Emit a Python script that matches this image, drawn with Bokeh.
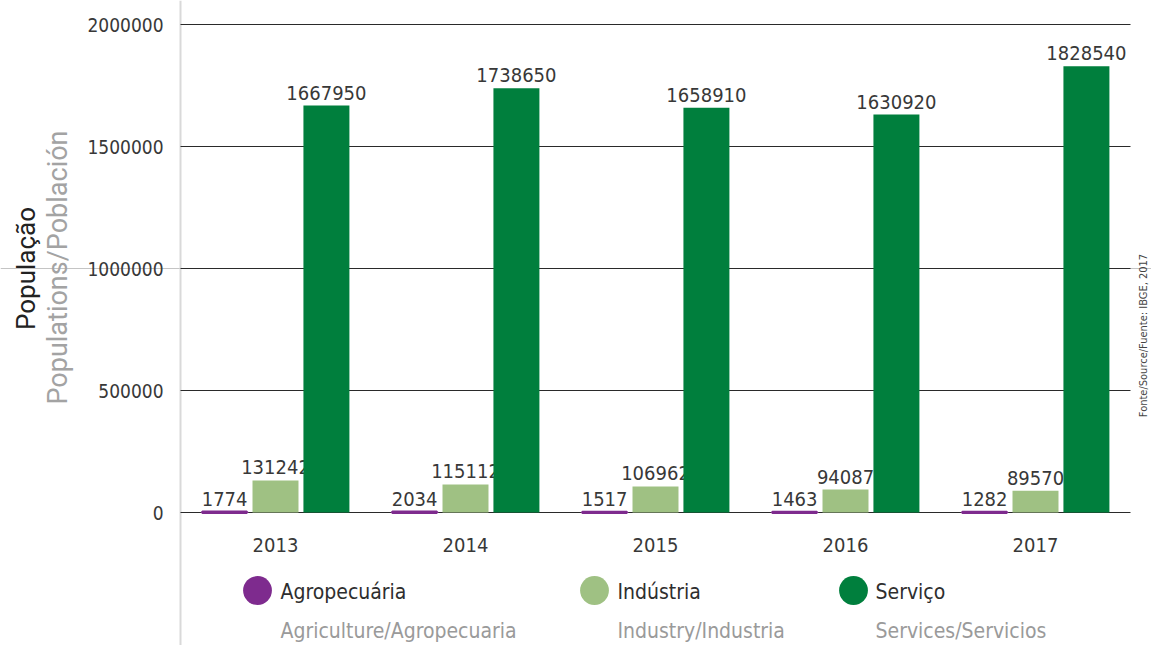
import math
from bokeh.plotting import figure
from bokeh.models import (Range1d, Legend, LegendItem, Label, Span, ColumnDataSource)
from bokeh.transform import dodge
from bokeh.core.properties import value
from bokeh.embed import file_html
from bokeh.resources import INLINE

# ---- data ----
years = ["2013", "2014", "2015", "2016", "2017"]
agro = [1774, 2034, 1517, 1463, 1282]
industria = [131242, 115112, 106962, 94087, 89570]
servico = [1667950, 1738650, 1658910, 1630920, 1828540]
series_pt = ["Agropecuária", "Indústria", "Serviço"]
series_en = ["Agriculture/Agropecuaria", "Industry/Industria", "Services/Servicios"]
colors = ["#7e2b8e", "#9fc183", "#007f3d"]
y_ticks = [0, 500000, 1000000, 1500000, 2000000]
y_tick_labels = ["0", "500000", "1000000", "1500000", "2000000"]
y_title_pt = "População"
y_title_en = "Populations/Población"
source_note = "Fonte/Source/Fuente: IBGE, 2017"

NUM = "DejaVu Sans Condensed"
DARK = "#383838"
GRAY = "#9a9a9a"

W, H = 1151, 645
FRAME_L = 180          # px where the category area begins
GROUP_PX = 190         # px per category
ZERO_Y, TOP_Y = 512, 24  # px of 0 and 2,000,000
n = len(years)
px_per_val = (ZERO_Y - TOP_Y) / y_ticks[-1]

x_lo = -0.5 - FRAME_L / GROUP_PX
x_hi = x_lo + W / GROUP_PX
y_hi = y_ticks[-1] + TOP_Y / px_per_val
y_lo = -(H - ZERO_Y) / px_per_val

p = figure(width=W, height=H, x_range=Range1d(x_lo, x_hi), y_range=Range1d(y_lo, y_hi),
           output_backend="svg", toolbar_location=None,
           min_border_left=0, min_border_right=0, min_border_top=0, min_border_bottom=0,
           outline_line_color=None, background_fill_color="white", border_fill_color="white")
p.axis.visible = False
p.grid.visible = False

xs = list(range(n))
left_edge = -0.5
right_edge = n - 0.5

# decorative guide lines
p.add_layout(Span(location=y_ticks[2], dimension="width", line_color="#c4c4c4",
                  line_width=1, level="underlay"))
p.add_layout(Span(location=left_edge, dimension="height", line_color="#d9d9d9",
                  line_width=2, level="underlay"))

# grid lines
p.segment(x0=[left_edge] * len(y_ticks), x1=[right_edge] * len(y_ticks), y0=y_ticks,
          y1=y_ticks, line_color="#2a2a2a", line_width=1)

# y tick labels
p.text(x=[left_edge] * len(y_ticks), y=y_ticks, text=y_tick_labels, text_font=value(NUM),
       text_font_size="19px", text_color=DARK, text_align="right", text_baseline="middle",
       x_offset=-17)

src = ColumnDataSource(dict(x=xs, years=years, agro=agro, industria=industria,
                            servico=servico,
                            agro_t=[str(v) for v in agro],
                            ind_t=[str(v) for v in industria],
                            ser_t=[str(v) for v in servico]))

offsets = [-0.268, 0.0, 0.268]
cols = ["agro", "industria", "servico"]
tcols = ["agro_t", "ind_t", "ser_t"]
outline = [3, 0, 0]
for off, col, tcol, c, lw in zip(offsets, cols, tcols, colors, outline):
    p.vbar(x=dodge("x", off), top=col, bottom=0, width=0.235 if lw else 0.242,
           source=src, fill_color=c, line_color=c if lw else None, line_width=lw or 1)
    p.text(x=dodge("x", off), y=col, text=tcol, source=src,
           text_font=value(NUM), text_font_size="20px", text_color=DARK,
           text_align="center", text_baseline="alphabetic", y_offset=-13)

# year labels under the zero line
p.text(x="x", y=0, text="years", source=src, text_font=value(NUM), text_font_size="20px",
       text_color=DARK, text_align="center", text_baseline="middle", y_offset=32)

# legend: circles via Legend, texts via Labels
circle_cx = [257, 594, 853]
legend_cy = 590
pt_x = [280, 617, 875]
for name, en, c, cx, tx in zip(series_pt, series_en, colors, circle_cx, pt_x):
    r = p.scatter(x=[xs[0]], y=[0], size=0, marker="circle", fill_color=c, line_color=None)
    lg = Legend(items=[LegendItem(label=" ", renderers=[r])],
                location=(cx - 36, H - legend_cy - 36),
                glyph_width=72, glyph_height=72, label_standoff=0, padding=0, margin=0,
                border_line_color=None, background_fill_alpha=0,
                label_text_font_size="8px", label_height=8, label_width=1)
    p.add_layout(lg)
    p.add_layout(Label(x=tx, y=H - 591, x_units="screen", y_units="screen", text=name,
                       text_font=NUM, text_font_size="21px", text_color="#2e2e2e",
                       text_baseline="alphabetic"))
    p.add_layout(Label(x=tx, y=H - 630, x_units="screen", y_units="screen", text=en,
                       text_font=NUM, text_font_size="21px", text_color=GRAY,
                       text_baseline="alphabetic"))

# y titles
p.add_layout(Label(x=25, y=H - 268, x_units="screen", y_units="screen", text=y_title_pt,
                   angle=math.pi / 2, text_align="center", text_baseline="middle",
                   text_font="Roboto", text_font_size="26px", text_color="#222222"))
p.add_layout(Label(x=57, y=H - 267, x_units="screen", y_units="screen", text=y_title_en,
                   angle=math.pi / 2, text_align="center", text_baseline="middle",
                   text_font="Roboto", text_font_size="27px", text_color="#a3a3a3"))

# source note
p.add_layout(Label(x=1143, y=H - 335, x_units="screen", y_units="screen", text=source_note,
                   angle=math.pi / 2, text_align="center", text_baseline="middle",
                   text_font=NUM, text_font_size="11px", text_color="#444444"))

open("out.html", "w").write(file_html(p, INLINE))
